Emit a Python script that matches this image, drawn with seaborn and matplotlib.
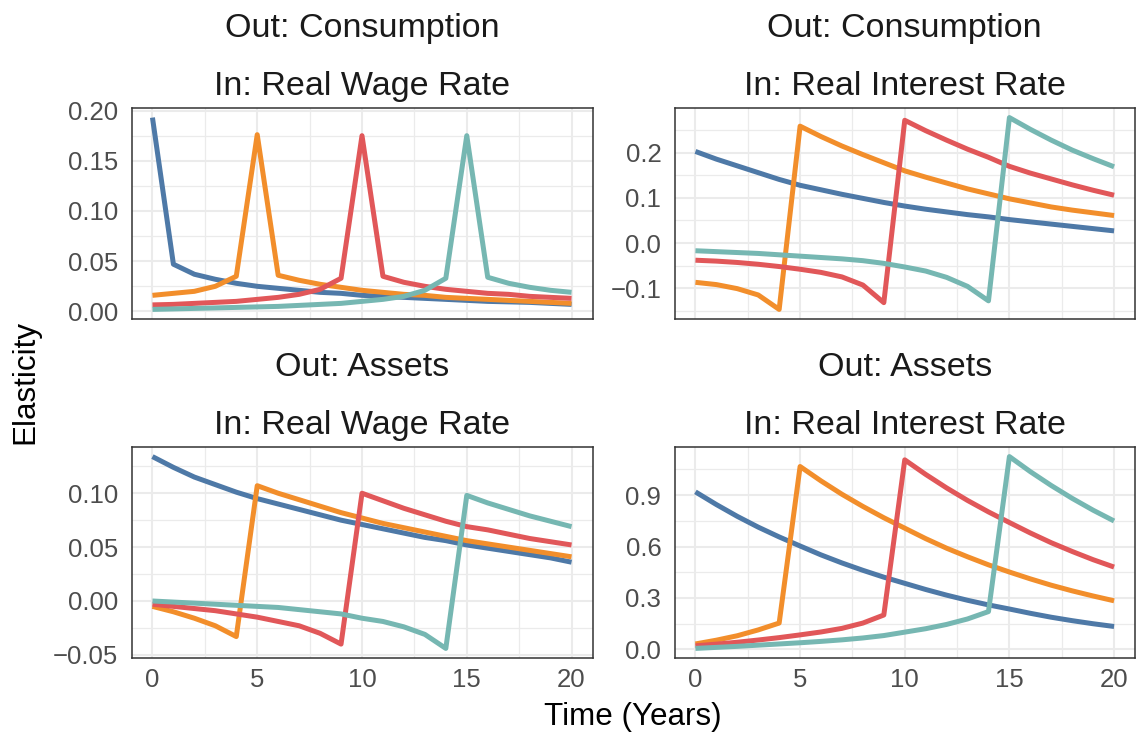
import numpy as np
import pandas as pd
import matplotlib
matplotlib.use("Agg")
import matplotlib.pyplot as plt
import seaborn as sns
from matplotlib.ticker import FixedLocator, FixedFormatter, MultipleLocator

# ---- data -------------------------------------------------------------
years = list(range(21))
shock_labels = ["t = 0", "t = 5", "t = 10", "t = 15"]
palette = ["#4E79A7", "#F28E2B", "#E15759", "#76B7B2"]

out_labels = ["Out: Consumption", "Out: Consumption", "Out: Assets", "Out: Assets"]
in_labels = ["In: Real Wage Rate", "In: Real Interest Rate",
             "In: Real Wage Rate", "In: Real Interest Rate"]

# Consumption response to the real wage rate
cons_wage_0 = [0.193, 0.047, 0.037, 0.032, 0.028, 0.025, 0.023, 0.021, 0.019, 0.018, 0.016,
               0.015, 0.014, 0.013, 0.012, 0.011, 0.010, 0.0095, 0.009, 0.008, 0.007]
cons_wage_5 = [0.016, 0.018, 0.020, 0.025, 0.035, 0.176, 0.036, 0.031, 0.027, 0.024, 0.021,
               0.019, 0.017, 0.016, 0.014, 0.013, 0.012, 0.011, 0.010, 0.009, 0.008]
cons_wage_10 = [0.0065, 0.007, 0.008, 0.009, 0.010, 0.012, 0.014, 0.017, 0.022, 0.033, 0.175,
                0.035, 0.029, 0.025, 0.022, 0.020, 0.018, 0.017, 0.015, 0.014, 0.013]
cons_wage_15 = [0.002, 0.0025, 0.003, 0.0035, 0.004, 0.0045, 0.005, 0.006, 0.007, 0.008, 0.010,
                0.012, 0.015, 0.021, 0.033, 0.175, 0.034, 0.028, 0.024, 0.021, 0.019]

# Consumption response to the real interest rate
cons_rate_0 = [0.203, 0.186, 0.171, 0.156, 0.141, 0.128, 0.118, 0.108, 0.099, 0.090, 0.082,
               0.075, 0.069, 0.063, 0.058, 0.052, 0.047, 0.042, 0.037, 0.032, 0.027]
cons_rate_5 = [-0.087, -0.092, -0.101, -0.115, -0.147, 0.259, 0.236, 0.215, 0.196, 0.178, 0.160,
               0.146, 0.133, 0.120, 0.109, 0.098, 0.089, 0.080, 0.073, 0.067, 0.061]
cons_rate_10 = [-0.038, -0.040, -0.043, -0.047, -0.052, -0.058, -0.065, -0.075, -0.093, -0.132, 0.272,
                0.249, 0.228, 0.208, 0.190, 0.170, 0.155, 0.142, 0.129, 0.117, 0.106]
cons_rate_15 = [-0.017, -0.019, -0.021, -0.023, -0.026, -0.029, -0.032, -0.035, -0.039, -0.045, -0.053,
                -0.062, -0.076, -0.096, -0.128, 0.278, 0.252, 0.228, 0.206, 0.187, 0.169]

# Asset response to the real wage rate
asset_wage_0 = [0.134, 0.124, 0.115, 0.108, 0.101, 0.095, 0.090, 0.085, 0.080, 0.075, 0.071,
                0.067, 0.063, 0.059, 0.056, 0.052, 0.049, 0.046, 0.043, 0.040, 0.036]
asset_wage_5 = [-0.005, -0.010, -0.016, -0.023, -0.033, 0.107, 0.100, 0.094, 0.088, 0.082, 0.077,
                0.072, 0.068, 0.064, 0.060, 0.056, 0.053, 0.050, 0.047, 0.044, 0.041]
asset_wage_10 = [-0.003, -0.005, -0.007, -0.009, -0.012, -0.015, -0.019, -0.023, -0.030, -0.040, 0.100,
                 0.093, 0.086, 0.080, 0.074, 0.069, 0.066, 0.062, 0.058, 0.055, 0.052]
asset_wage_15 = [0.000, -0.001, -0.002, -0.003, -0.004, -0.005, -0.006, -0.008, -0.010, -0.012, -0.016,
                 -0.019, -0.024, -0.031, -0.044, 0.098, 0.091, 0.085, 0.079, 0.074, 0.069]

# Asset response to the real interest rate
asset_rate_0 = [0.919, 0.845, 0.776, 0.713, 0.656, 0.603, 0.551, 0.504, 0.461, 0.421, 0.385,
                0.349, 0.316, 0.286, 0.259, 0.235, 0.210, 0.187, 0.167, 0.149, 0.133]
asset_rate_5 = [0.031, 0.053, 0.079, 0.113, 0.153, 1.067, 0.983, 0.905, 0.834, 0.768, 0.707,
                0.646, 0.590, 0.540, 0.493, 0.451, 0.411, 0.374, 0.341, 0.311, 0.283]
asset_rate_10 = [0.020, 0.030, 0.041, 0.054, 0.068, 0.084, 0.101, 0.122, 0.153, 0.200, 1.106,
                 1.021, 0.942, 0.869, 0.802, 0.740, 0.679, 0.622, 0.571, 0.523, 0.480]
asset_rate_15 = [0.005, 0.011, 0.017, 0.024, 0.031, 0.038, 0.046, 0.055, 0.066, 0.080, 0.100,
                 0.120, 0.145, 0.177, 0.220, 1.125, 1.037, 0.956, 0.881, 0.812, 0.749]

panel_series = [
    [cons_wage_0, cons_wage_5, cons_wage_10, cons_wage_15],
    [cons_rate_0, cons_rate_5, cons_rate_10, cons_rate_15],
    [asset_wage_0, asset_wage_5, asset_wage_10, asset_wage_15],
    [asset_rate_0, asset_rate_5, asset_rate_10, asset_rate_15],
]

x_ticks = [0, 5, 10, 15, 20]
x_tick_labels = ["0", "5", "10", "15", "20"]
y_ticks = [
    [0.00, 0.05, 0.10, 0.15, 0.20],
    [-0.1, 0.0, 0.1, 0.2],
    [-0.05, 0.00, 0.05, 0.10],
    [0.0, 0.3, 0.6, 0.9],
]
y_tick_labels = [
    ["0.00", "0.05", "0.10", "0.15", "0.20"],
    ["\u22120.1", "0.0", "0.1", "0.2"],
    ["\u22120.05", "0.00", "0.05", "0.10"],
    ["0.0", "0.3", "0.6", "0.9"],
]
y_minor_step = [0.025, 0.05, 0.025, 0.15]

rows = []
for p, series in enumerate(panel_series):
    for lab, vals in zip(shock_labels, series):
        for yr, v in zip(years, vals):
            rows.append({"panel": p, "year": yr, "shock": lab, "elasticity": v})
df = pd.DataFrame(rows)

# ---- styling ----------------------------------------------------------
sns.set_theme(style="white")
plt.rcParams["font.family"] = ["Liberation Sans", "DejaVu Sans"]

W, H = 1138, 735
fig = plt.figure(figsize=(W / 100, H / 100), dpi=100)

# panel boxes in pixels: (left, right) per column, (top, bottom) per row
col_x = [(131.5, 592.5), (674.5, 1135)]
row_y = [(108, 319), (447, 658)]

TICK_COLOR = "#4D4D4D"
BORDER = "#333333"
GRID = "#EBEBEB"

for p in range(4):
    r, c = divmod(p, 2)
    x0, x1 = col_x[c]
    y0, y1 = row_y[r]
    ax = fig.add_axes([x0 / W, 1 - y1 / H, (x1 - x0) / W, (y1 - y0) / H])
    sub = df[df["panel"] == p]
    sns.lineplot(data=sub, x="year", y="elasticity", hue="shock",
                 hue_order=shock_labels, palette=palette, linewidth=3.6,
                 legend=False, ax=ax, solid_capstyle="butt")

    vals = sub["elasticity"].to_numpy()
    lo, hi = vals.min(), vals.max()
    pad = 0.05 * (hi - lo)
    ax.set_ylim(lo - pad, hi + pad)
    ax.set_xlim(-1, 21)

    ax.xaxis.set_major_locator(FixedLocator(x_ticks))
    ax.xaxis.set_major_formatter(FixedFormatter(x_tick_labels))
    ax.xaxis.set_minor_locator(MultipleLocator(2.5))
    ax.yaxis.set_major_locator(FixedLocator(y_ticks[p]))
    ax.yaxis.set_major_formatter(FixedFormatter(y_tick_labels[p]))
    ax.yaxis.set_minor_locator(MultipleLocator(y_minor_step[p]))

    ax.set_axisbelow(True)
    ax.grid(which="major", color=GRID, linewidth=1.5)
    ax.grid(which="minor", color=GRID, linewidth=0.9)
    for s in ax.spines.values():
        s.set_color(BORDER)
        s.set_linewidth(1.1)
    ax.tick_params(which="major", length=5, width=1.1, color=BORDER,
                   labelcolor=TICK_COLOR, labelsize=18.5)
    ax.tick_params(axis="x", which="major", pad=2.5)
    ax.tick_params(axis="y", which="major", pad=4.5)
    ax.tick_params(which="minor", length=0)
    if r == 0:
        ax.tick_params(axis="x", which="both", bottom=False, labelbottom=False)
    ax.set_xlabel("")
    ax.set_ylabel("")

    ax.annotate(out_labels[p], xy=(0.5, 1), xycoords="axes fraction",
                xytext=(0, 71), textcoords="offset pixels",
                ha="center", va="baseline", fontsize=24.5, color="#1A1A1A")
    ax.annotate(in_labels[p], xy=(0.5, 1), xycoords="axes fraction",
                xytext=(0, 13), textcoords="offset pixels",
                ha="center", va="baseline", fontsize=24.5, color="#1A1A1A")

fig.text(633 / W, 1 - 725 / H, "Time (Years)", ha="center", va="baseline",
         fontsize=22.6, color="black")
fig.text(25 / W, 1 - 382 / H, "Elasticity", ha="center", va="center",
         rotation=90, fontsize=22.6, color="black")

fig.savefig("out.png", dpi=100)
